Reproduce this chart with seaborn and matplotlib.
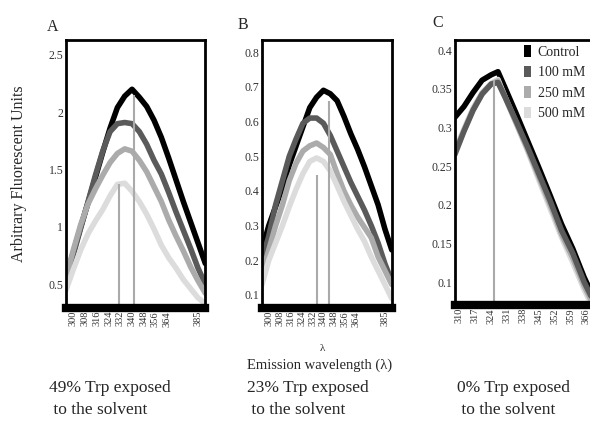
import numpy as np
import pandas as pd
import matplotlib
matplotlib.use('Agg')
import matplotlib.pyplot as plt
from matplotlib.patches import Patch
import seaborn as sns

# longueurs d'onde (nm) communes aux panneaux A et B
wl_ab = [295, 300, 305, 310, 315, 320, 325, 330, 335, 340,
         345, 350, 355, 360, 365, 370, 375, 380, 385, 390]

# Panneau A : 49% Trp exposé
a_control = [0.56, 0.78, 1.00, 1.21, 1.43, 1.65, 1.86, 2.04, 2.14, 2.20,
             2.13, 2.05, 1.93, 1.78, 1.60, 1.41, 1.22, 1.04, 0.86, 0.68]
a_100 = [0.55, 0.76, 0.99, 1.22, 1.45, 1.66, 1.83, 1.90, 1.91, 1.90,
         1.83, 1.72, 1.58, 1.46, 1.30, 1.13, 0.97, 0.81, 0.64, 0.50]
a_250 = [0.56, 0.80, 1.02, 1.20, 1.33, 1.45, 1.56, 1.64, 1.68, 1.66,
         1.58, 1.48, 1.35, 1.22, 1.06, 0.92, 0.79, 0.65, 0.53, 0.42]
a_500 = [0.45, 0.63, 0.80, 0.94, 1.05, 1.15, 1.27, 1.37, 1.38, 1.31,
         1.22, 1.11, 0.98, 0.84, 0.73, 0.64, 0.54, 0.46, 0.38, 0.33]
a_lambda_max = [341.5, 331.0]
a_peak = [2.15, 1.37]

# Panneau B : 23% Trp exposé
b_control = [0.23, 0.30, 0.355, 0.41, 0.475, 0.53, 0.585, 0.64, 0.67, 0.69,
             0.68, 0.66, 0.615, 0.565, 0.52, 0.47, 0.415, 0.36, 0.29, 0.23]
b_100 = [0.20, 0.27, 0.36, 0.43, 0.50, 0.55, 0.595, 0.61, 0.61, 0.595,
         0.56, 0.515, 0.47, 0.425, 0.385, 0.345, 0.30, 0.25, 0.19, 0.14]
b_250 = [0.16, 0.23, 0.30, 0.36, 0.43, 0.48, 0.515, 0.53, 0.538, 0.525,
         0.505, 0.45, 0.40, 0.36, 0.325, 0.295, 0.265, 0.21, 0.17, 0.13]
b_500 = [0.13, 0.20, 0.25, 0.30, 0.355, 0.405, 0.45, 0.485, 0.495, 0.485,
         0.458, 0.415, 0.37, 0.33, 0.29, 0.255, 0.21, 0.17, 0.13, 0.09]
b_lambda_max = [344.0, 335.0]
b_peak = [0.66, 0.445]

# Panneau C : 0% Trp exposé
wl_c = [308, 312, 316, 320, 324, 327, 330, 335, 340, 345, 350, 355, 360, 365, 370]
c_control = [0.313, 0.327, 0.345, 0.361, 0.368, 0.372, 0.352, 0.318, 0.283,
             0.248, 0.212, 0.175, 0.143, 0.106, 0.075]
c_100 = [0.265, 0.295, 0.322, 0.343, 0.356, 0.358, 0.340, 0.308, 0.275,
         0.240, 0.205, 0.167, 0.137, 0.100, 0.070]
c_250 = [0.268, 0.296, 0.323, 0.344, 0.356, 0.360, 0.340, 0.306, 0.272,
         0.236, 0.200, 0.162, 0.131, 0.095, 0.065]
c_500 = [0.270, 0.298, 0.325, 0.345, 0.357, 0.362, 0.340, 0.305, 0.270,
         0.232, 0.195, 0.158, 0.125, 0.090, 0.060]
c_lambda_max = [325.2]
c_peak = [0.361]

conc_labels = ['Control', '100 mM', '250 mM', '500 mM']
palette = {'Control': '#000000', '100 mM': '#5a5a5a',
           '250 mM': '#ababab', '500 mM': '#dcdcdc'}

ticks_ab = [300, 308, 316, 324, 332, 340, 348, 356, 364, 385]
ticks_c = [310, 317, 324, 331, 338, 345, 352, 359, 366]


def to_long(wl, series):
    rows = []
    for label, vals in zip(conc_labels, series):
        for x, y in zip(wl, vals):
            rows.append({'wl': x, 'value': y, 'conc': label})
    return pd.DataFrame(rows)


sns.set_style('white')
plt.rcParams['font.family'] = ['Liberation Serif', 'DejaVu Serif']

fig = plt.figure(figsize=(5.9, 4.21), dpi=100)
ax_a = fig.add_axes([0.112, 0.268, 0.236, 0.637])
ax_b = fig.add_axes([0.444, 0.268, 0.220, 0.637])
ax_c = fig.add_axes([0.771, 0.275, 0.246, 0.630])

panels = [
    (ax_a, wl_ab, [a_control, a_100, a_250, a_500], (295, 390), (0.29, 2.63),
     [0.5, 1, 1.5, 2, 2.5], ['0.5', '1', '1.5', '2', '2.5'], ticks_ab,
     a_lambda_max, a_peak, conc_labels),
    (ax_b, wl_ab, [b_control, b_100, b_250, b_500], (295, 390), (0.062, 0.835),
     [0.1, 0.2, 0.3, 0.4, 0.5, 0.6, 0.7, 0.8],
     ['0.1', '0.2', '0.3', '0.4', '0.5', '0.6', '0.7', '0.8'], ticks_ab,
     b_lambda_max, b_peak, conc_labels),
    (ax_c, wl_c, [c_control, c_100, c_250, c_500], (308, 372), (0.07, 0.413),
     [0.1, 0.15, 0.2, 0.25, 0.3, 0.35, 0.4],
     ['0.1', '0.15', '0.2', '0.25', '0.3', '0.35', '0.4'], ticks_c,
     c_lambda_max, c_peak, ['Control', '500 mM', '250 mM', '100 mM']),
]

for ax, wl, series, xlim, ylim, yt, ytl, xt, lmax, peak, order in panels:
    df = to_long(wl, series)
    sns.lineplot(data=df, x='wl', y='value', hue='conc', hue_order=order,
                 palette=palette, linewidth=4, sort=False, legend=False, ax=ax)
    ax.vlines(lmax, ylim[0], peak, color='#aaaaaa', linewidth=1.5)
    ax.set_xlim(*xlim)
    ax.set_ylim(*ylim)
    ax.set_yticks(yt)
    ax.set_yticklabels(ytl, fontsize=8.5, color='#333333')
    ax.set_xticks(xt)
    ax.set_xticklabels([str(t) for t in xt], rotation=90, fontsize=7.5,
                       color='#333333')
    ax.tick_params(length=0, pad=2)
    ax.set_xlabel('')
    ax.set_ylabel('')
    for s in ['left', 'top', 'right']:
        ax.spines[s].set_linewidth(2)
        ax.spines[s].set_color('black')
    ax.spines['bottom'].set_linewidth(6)
    ax.spines['bottom'].set_color('black')

ax_c.spines['right'].set_visible(False)

# légende du panneau C : petits rectangles
handles = [Patch(facecolor=palette[c], edgecolor='none') for c in conc_labels]
ax_c.legend(handles, conc_labels, loc='upper left', bbox_to_anchor=(0.47, 0.985),
            frameon=False, fontsize=10, handlelength=0.45, handleheight=0.9,
            handletextpad=0.5, labelspacing=0.5, borderaxespad=0.1,
            borderpad=0)

ax_a.set_ylabel('Arbitrary Fluorescent Units', fontsize=11.5)
ax_a.yaxis.set_label_coords(-0.28, 0.5)

fig.text(0.08, 0.936, 'A', fontsize=11.5, ha='left', va='center')
fig.text(0.402, 0.94, 'B', fontsize=11.5, ha='left', va='center')
fig.text(0.733, 0.945, 'C', fontsize=11.5, ha='left', va='center')

fig.text(0.546, 0.172, 'λ', fontsize=8, ha='center', va='center')
fig.text(0.542, 0.133, 'Emission wavelength (λ)', fontsize=10.5, ha='center',
         va='center')

for x0, txt in [(0.083, '49% Trp exposed\n to the solvent'),
                (0.418, '23% Trp exposed\n to the solvent'),
                (0.774, '0% Trp exposed\n to the solvent')]:
    fig.text(x0, 0.098, txt, fontsize=12.5, ha='left', va='top',
             linespacing=1.5)

fig.savefig('out.png', dpi=100)
plt.close(fig)
